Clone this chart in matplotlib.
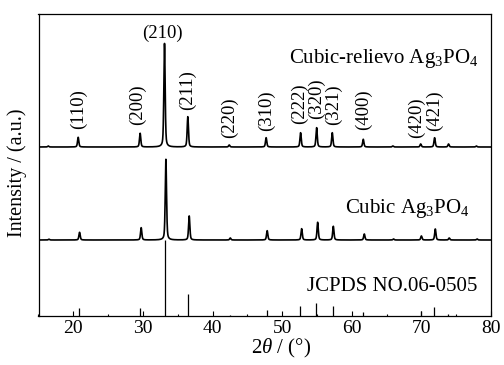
import numpy as np
import matplotlib
matplotlib.use("Agg")
import matplotlib.pyplot as plt
from matplotlib.ticker import MultipleLocator

plt.rcParams['font.family'] = ['Liberation Serif', 'DejaVu Serif']
plt.rcParams['mathtext.fontset'] = 'custom'
plt.rcParams['mathtext.rm'] = 'Liberation Serif'
plt.rcParams['mathtext.it'] = 'Liberation Serif:italic'

# ---- data (intensity in arbitrary units) ----
hkl = ['(110)', '(200)', '(210)', '(211)', '(220)', '(310)', '(222)',
       '(320)', '(321)', '(400)', '(420)', '(421)']

# Cubic-relievo Ag3PO4 peaks
relievo_pos = [16.4, 20.7, 29.6, 33.1, 36.45, 42.4, 47.7, 52.65, 54.95, 57.2, 61.65, 65.9, 69.9, 71.9, 73.9, 77.9]
relievo_int = [1.0, 9.7, 13.7, 103.7, 30.3, 2.0, 9.3, 14.3, 19.3, 14.3, 7.7, 1.0, 3.0, 9.3, 3.0, 1.0]

# Cubic Ag3PO4 peaks
cubic_pos = [16.5, 20.9, 29.75, 33.3, 36.65, 42.55, 47.85, 52.8, 55.1, 57.35, 61.8, 66.0, 70.0, 72.0, 74.0, 78.0]
cubic_int = [0.8, 7.7, 12.3, 80.7, 24.0, 2.0, 9.3, 11.3, 17.7, 13.7, 6.0, 1.0, 4.0, 11.0, 2.0, 1.0]

# JCPDS 06-0505 reference sticks
ref_pos = [20.85, 29.6, 33.2, 36.5, 42.5, 47.8, 52.6, 54.9, 57.3, 61.6, 69.9, 71.8, 73.8]
ref_int = [8.0, 8.3, 76.0, 22.0, 1.3, 6.0, 9.7, 13.3, 10.0, 3.7, 5.3, 8.7, 1.7]

# label anchors (2theta, intensity)
label_x = [20.77, 29.25, 32.74, 36.43, 42.41, 47.78, 52.42, 54.86, 57.35, 61.66, 69.33, 71.86]
label_y = [207, 211, 283, 225.5, 198.5, 205.2, 212, 217.3, 211.5, 206.3, 198.5, 205.5]

relievo_offset = 169
cubic_offset = 76


def profile(x, pos, inten, fwhm=0.22, eta=0.45):
    y = np.zeros_like(x)
    s = fwhm / 2.3548
    g = fwhm / 2
    for p, a in zip(pos, inten):
        gauss = np.exp(-0.5 * ((x - p) / s) ** 2)
        lor = g ** 2 / ((x - p) ** 2 + g ** 2)
        y += a * ((1 - eta) * gauss + eta * lor)
    return y


x = np.linspace(15, 80, 6000)
y_rel = profile(x, relievo_pos, relievo_int) + relievo_offset
y_cub = profile(x, cubic_pos, cubic_int) + cubic_offset

fig = plt.figure(figsize=(5.04, 3.65), dpi=100)
ax = fig.add_axes([38.5 / 504, 49 / 365, 452.5 / 504, 302.5 / 365])

ax.plot(x, y_rel, color='black', lw=1.2)
ax.plot(x, y_cub, color='black', lw=1.2)
ax.vlines(ref_pos, 0, ref_int, color='black', lw=0.9)

for lab, lx, ly in zip(hkl, label_x, label_y):
    rot = 0 if lab == '(210)' else 90
    ax.text(lx, ly, lab, rotation=rot, ha='center', va='center', fontsize=13.5)

ax.text(78.2, 257, r'Cubic-relievo Ag$_3$PO$_4$', ha='right', va='center', fontsize=15)
ax.text(76.85, 107, r'Cubic Ag$_3$PO$_4$', ha='right', va='center', fontsize=15)
ax.text(78.1, 29.3, 'JCPDS NO.06-0505', ha='right', va='center', fontsize=15)

ax.set_xlim(15, 80)
ax.set_ylim(0, 302.5)
ax.xaxis.set_major_locator(MultipleLocator(10))
ax.xaxis.set_minor_locator(MultipleLocator(5))
ax.tick_params(axis='x', which='major', direction='in', length=3.6, width=0.8,
               labelsize=14, pad=3, top=False)
ax.tick_params(axis='x', which='minor', direction='in', length=1.8, width=0.8, top=False)
ax.set_yticks([])
for sp in ax.spines.values():
    sp.set_linewidth(0.9)

ax.set_xlabel(r'2$\theta$ / (°)', fontsize=15)
ax.xaxis.set_label_coords(0.537, -0.068)
ax.set_ylabel('Intensity / (a.u.)', fontsize=14.5)
ax.yaxis.set_label_coords(-0.025, 0.475)

fig.savefig('out.png', dpi=100)
